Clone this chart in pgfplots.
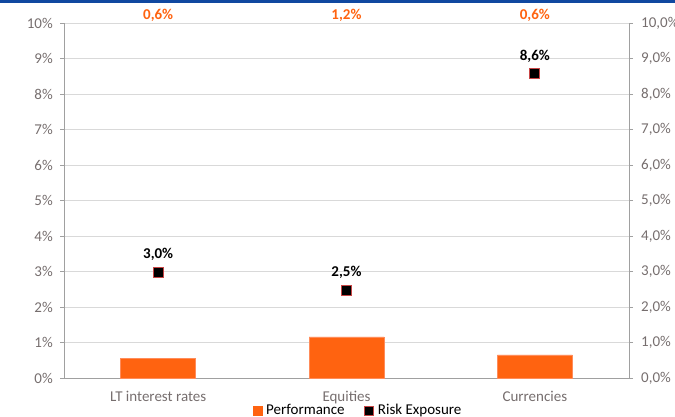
\documentclass[border=0pt]{standalone}
\usepackage{pgfplots}
\pgfplotsset{compat=1.18}
\usepackage{fontspec}
\setmainfont{Carlito}
\definecolor{barorange}{RGB}{255,99,16}
\definecolor{baredge}{RGB}{255,140,90}
\definecolor{mkred}{RGB}{200,70,70}
\definecolor{tickgray}{RGB}{118,110,110}
\definecolor{gridgray}{RGB}{217,217,217}
\definecolor{axisgray}{RGB}{160,160,160}
\definecolor{topblue}{RGB}{16,72,160}
\newcommand{\fs}{\fontsize{15}{18}\selectfont}
\begin{document}
\fs
\begin{tikzpicture}[x=1pt,y=1pt]
\path[use as bounding box] (0,0) rectangle (675,417);
\fill[topblue] (0,414.3) rectangle (675,417);
\begin{axis}[
  at={(64pt,39pt)}, anchor=south west,
  scale only axis, width=565pt, height=355pt,
  xmin=-0.5, xmax=2.5, ymin=0, ymax=10,
  axis y line*=left, axis x line*=bottom,
  axis line style={axisgray, line width=0.8pt},
  every outer x axis line/.append style={-},
  every outer y axis line/.append style={-},
  xtick={0,1,2},
  xticklabels={LT interest rates,Equities,Currencies},
  x tick label style={text=tickgray, font=\fs, yshift=-4pt},
  xtick style={draw=none},
  ytick={0,1,...,10},
  yticklabels={0\%,1\%,2\%,3\%,4\%,5\%,6\%,7\%,8\%,9\%,10\%},
  y tick label style={text=tickgray, font=\fs, xshift=-2pt},
  ytick style={axisgray, line width=0.8pt},
  tick align=outside, major tick length=4pt,
  ymajorgrids, grid style={gridgray, line width=0.8pt},
  legend columns=2,
  legend style={at={(0.52,-0.092)}, anchor=center, draw=none, fill=none,
    font=\fs, text=black,
    /tikz/every odd column/.append style={column sep=2.5pt},
    /tikz/every even column/.append style={column sep=18pt},
    inner sep=0pt, nodes={inner sep=1.5pt}},
  clip=false,
]
\addplot[ybar, bar width=75pt, fill=barorange, draw=baredge, line width=0.6pt,
  legend image code/.code={\fill[barorange] (0pt,-4.5pt) rectangle (9pt,4.5pt);}]
  coordinates {(0,0.56) (1,1.16) (2,0.65)};
\addlegendentry{Performance}
\addplot[only marks, mark=square*, mark size=5pt,
  mark options={fill=black, draw=mkred, line width=0.8pt},
  nodes near coords, point meta=explicit symbolic,
  every node near coord/.style={font=\bfseries\fs, text=black, anchor=south, yshift=6pt},
  legend image code/.code={\draw[mkred, fill=black, line width=0.8pt] (0pt,-4.5pt) rectangle (9pt,4.5pt);}]
  coordinates {(0,2.98) [3,0\%] (1,2.48) [2,5\%] (2,8.57) [8,6\%]};
\addlegendentry{Risk Exposure}
\node[anchor=south, text=barorange, font=\bfseries\fs, inner sep=1pt] at (axis cs:0,10) {0,6\%};
\node[anchor=south, text=barorange, font=\bfseries\fs, inner sep=1pt] at (axis cs:1,10) {1,2\%};
\node[anchor=south, text=barorange, font=\bfseries\fs, inner sep=1pt] at (axis cs:2,10) {0,6\%};
\end{axis}
\begin{axis}[
  at={(64pt,39pt)}, anchor=south west,
  scale only axis, width=565pt, height=355pt,
  xmin=-0.5, xmax=2.5, ymin=0, ymax=10,
  axis y line*=right, axis x line=none,
  axis line style={axisgray, line width=0.8pt},
  every outer y axis line/.append style={-},
  ytick={0,1,...,10},
  yticklabels={{0,0\%},{1,0\%},{2,0\%},{3,0\%},{4,0\%},{5,0\%},{6,0\%},{7,0\%},{8,0\%},{9,0\%},{10,0\%}},
  y tick label style={text=tickgray, font=\fs, xshift=3pt},
  ytick style={axisgray, line width=0.8pt},
  tick align=outside, major tick length=4pt,
]
\addplot[draw=none] coordinates {(0,0)};
\end{axis}
\end{tikzpicture}
\end{document}
